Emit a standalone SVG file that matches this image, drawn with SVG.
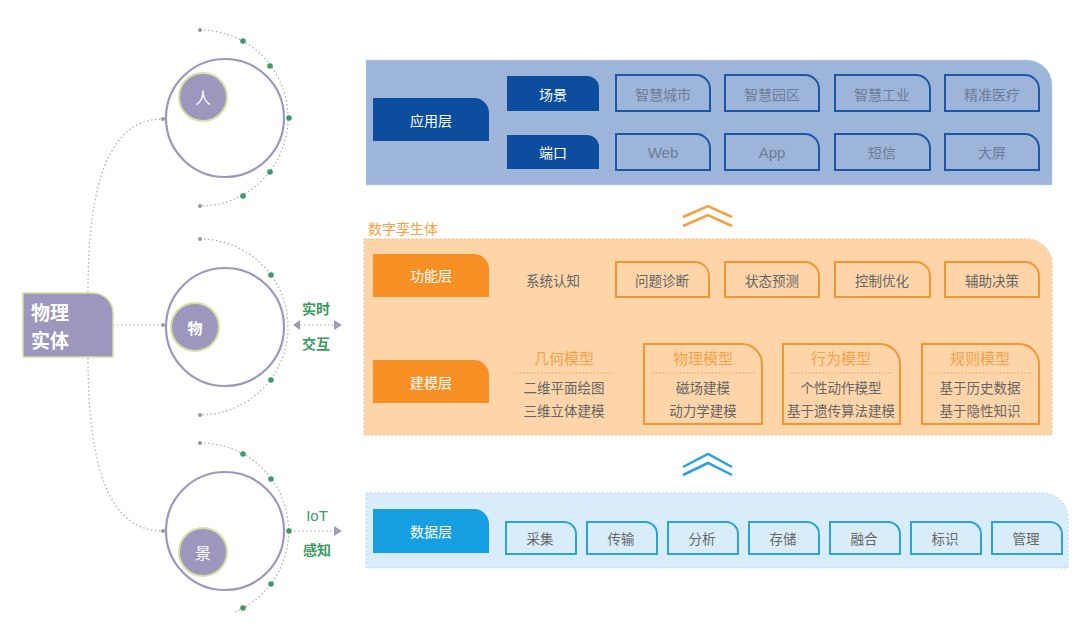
<svg xmlns="http://www.w3.org/2000/svg" width="1080" height="624" viewBox="0 0 1080 624">
<style>
text{font-family:"Noto Sans CJK SC","Liberation Sans",sans-serif;dominant-baseline:central;text-anchor:middle}
.lw{fill:#fff;font-size:14px}
.bt{fill:#6b7e99;font-size:14px}
.ot{fill:#666;font-size:13.5px}
.mt{fill:#f4a24a;font-size:15px}
.gt{fill:#3a9c5e;font-size:14px;font-weight:bold}
.ob{fill:none;stroke:#1e56a6;stroke-width:2}
.oo{fill:none;stroke:#f3962f;stroke-width:2}
.od{fill:none;stroke:#2aa2da;stroke-width:2}
.dot{fill:none;stroke:#aaa;stroke-width:1.2;stroke-dasharray:1.5 2.5}
.gd{fill:#3d9a6c}
.ed{fill:#999}
.big{fill:none;stroke:#9d97bd;stroke-width:2.2}
.sm{fill:#9d97bd;stroke:#d8dea4;stroke-width:2}
</style>
<rect width="1080" height="624" fill="#fff"/>

<g id="connectors">
<path class="dot" d="M88 292 C88 180 110 119 163 119"/>
<path class="dot" d="M113 325 H163"/>
<path class="dot" d="M88 358 C88 470 110 531 163 531"/>
<circle class="ed" cx="163" cy="119" r="2"/>
<circle class="ed" cx="163" cy="325" r="2"/>
<circle class="ed" cx="163" cy="531" r="2"/>
<path class="dot" d="M200 30 A88 88 0 0 1 200 206"/>
<path class="dot" d="M200 239 A88 88 0 0 1 200 415"/>
<path class="dot" d="M200 443 A88 88 0 0 1 235 612"/>
<path class="dot" d="M300 325 H333"/>
<path class="dot" d="M290 531 H333"/>
<polygon points="293,325 300,320 300,330" fill="#a09cb8"/>
<polygon points="342,325 334,320 334,330" fill="#a09cb8"/>
<polygon points="342,531 334,526 334,536" fill="#a09cb8"/>
<polyline points="683,217 708,206 732,217" fill="none" stroke="#f5a040" stroke-width="2.5"/>
<polyline points="683,226 708,215 732,226" fill="none" stroke="#f5a040" stroke-width="2.5"/>
<polyline points="683,467 708,454 732,467" fill="none" stroke="#2aa2da" stroke-width="2.5"/>
<polyline points="683,475 708,463 732,475" fill="none" stroke="#2aa2da" stroke-width="2.5"/>
</g>

<g id="entity">
<path d="M23 293 H93 A20 20 0 0 1 113 313 V357 H23 Z" fill="#9d97bd" stroke="#d8dea4" stroke-width="1.5"/>
<text x="31" y="311" style="text-anchor:start;fill:#fff;font-size:19px;font-weight:bold">物理</text>
<text x="31" y="339" style="text-anchor:start;fill:#fff;font-size:19px;font-weight:bold">实体</text>
</g>

<g id="node-ren">
<circle class="big" cx="225" cy="118" r="59"/>
<circle class="sm" cx="203" cy="97" r="24"/>
<text x="203" y="97" class="lw" style="font-size:16px">人</text>
<circle class="ed" cx="200" cy="30" r="2"/>
<circle class="ed" cx="200" cy="206" r="2"/>
<circle class="gd" cx="243" cy="41" r="2.8"/>
<circle class="gd" cx="270" cy="66" r="2.8"/>
<circle class="gd" cx="289" cy="118" r="2.8"/>
<circle class="gd" cx="270" cy="172" r="2.8"/>
<circle class="gd" cx="243" cy="196" r="2.8"/>
</g>

<g id="node-wu">
<circle class="big" cx="225" cy="327" r="59"/>
<circle class="sm" cx="195" cy="327" r="24"/>
<text x="195" y="327" class="lw" style="font-size:15px;font-weight:bold">物</text>
<circle class="ed" cx="200" cy="239" r="2"/>
<circle class="ed" cx="200" cy="415" r="2"/>
<circle class="gd" cx="271" cy="275" r="2.8"/>
<circle class="gd" cx="271" cy="380" r="2.8"/>
</g>

<g id="node-jing">
<circle class="big" cx="225" cy="531" r="59"/>
<circle class="sm" cx="203" cy="552" r="24"/>
<text x="203" y="552" class="lw" style="font-size:16px">景</text>
<circle class="ed" cx="200" cy="443" r="2"/>
<circle class="gd" cx="243" cy="454" r="2.8"/>
<circle class="gd" cx="271" cy="479" r="2.8"/>
<circle class="gd" cx="289" cy="531" r="2.8"/>
<circle class="gd" cx="271" cy="584" r="2.8"/>
<circle class="gd" cx="243" cy="608" r="2.8"/>
</g>

<g id="labels-left">
<text x="316" y="308" class="gt">实时</text>
<text x="316" y="343" class="gt">交互</text>
<text x="317" y="515" class="gt" style="font-family:'Liberation Sans',sans-serif;font-weight:normal;font-size:15px">IoT</text>
<text x="317" y="549" class="gt">感知</text>
</g>

<g id="app-layer">
<path d="M366 60 H1027 A25 25 0 0 1 1052 85 V185 H366 Z" fill="#9db5d9" stroke="#c3d1e8" stroke-width="1" stroke-dasharray="2 2"/>
<path d="M373 98 H474 A15 15 0 0 1 489 113 V141 H373 Z" fill="#0d4d9e"/>
<text x="431" y="120" class="lw">应用层</text>
<path d="M507 76 H587 A12 12 0 0 1 599 88 V111 H507 Z" fill="#0d4d9e"/>
<text x="553" y="94" class="lw">场景</text>
<path d="M507 135 H587 A12 12 0 0 1 599 147 V169 H507 Z" fill="#0d4d9e"/>
<text x="553" y="152" class="lw">端口</text>
<path class="ob" d="M616 75 H696 A14 14 0 0 1 710 89 V111 H616 Z"/>
<text x="663" y="94" class="bt">智慧城市</text>
<path class="ob" d="M725 75 H805 A14 14 0 0 1 819 89 V111 H725 Z"/>
<text x="772" y="94" class="bt">智慧园区</text>
<path class="ob" d="M835 75 H916 A14 14 0 0 1 930 89 V111 H835 Z"/>
<text x="882" y="94" class="bt">智慧工业</text>
<path class="ob" d="M945 75 H1025 A14 14 0 0 1 1039 89 V111 H945 Z"/>
<text x="992" y="94" class="bt">精准医疗</text>
<path class="ob" d="M616 134 H696 A14 14 0 0 1 710 148 V170 H616 Z"/>
<text x="663" y="152" class="bt" style="font-family:'Liberation Sans',sans-serif;font-size:15px">Web</text>
<path class="ob" d="M725 134 H805 A14 14 0 0 1 819 148 V170 H725 Z"/>
<text x="772" y="152" class="bt" style="font-family:'Liberation Sans',sans-serif;font-size:15px">App</text>
<path class="ob" d="M835 134 H916 A14 14 0 0 1 930 148 V170 H835 Z"/>
<text x="882" y="152" class="bt">短信</text>
<path class="ob" d="M945 134 H1025 A14 14 0 0 1 1039 148 V170 H945 Z"/>
<text x="992" y="152" class="bt">大屏</text>
</g>

<g id="twin-layer">
<text x="368" y="228" style="text-anchor:start;fill:#f6a23e;font-size:14px">数字孪生体</text>
<path d="M364 239 H1027 A25 25 0 0 1 1052 264 V435 H364 Z" fill="#fdd5a9" stroke="#f8be82" stroke-width="1" stroke-dasharray="2 2"/>
<path d="M373 254 H474 A15 15 0 0 1 489 269 V297 H373 Z" fill="#f68f24"/>
<text x="431" y="275" class="lw">功能层</text>
<text x="553" y="280" class="ot">系统认知</text>
<path class="oo" d="M616 262 H695 A14 14 0 0 1 709 276 V297 H616 Z"/>
<text x="662" y="280" class="ot">问题诊断</text>
<path class="oo" d="M725 262 H805 A14 14 0 0 1 819 276 V297 H725 Z"/>
<text x="772" y="280" class="ot">状态预测</text>
<path class="oo" d="M835 262 H916 A14 14 0 0 1 930 276 V297 H835 Z"/>
<text x="882" y="280" class="ot">控制优化</text>
<path class="oo" d="M945 262 H1025 A14 14 0 0 1 1039 276 V297 H945 Z"/>
<text x="992" y="280" class="ot">辅助决策</text>

<path d="M373 360 H474 A15 15 0 0 1 489 375 V403 H373 Z" fill="#f68f24"/>
<text x="431" y="382" class="lw">建模层</text>

<text x="564" y="357" class="mt">几何模型</text>
<path d="M513 373 H615" stroke="#c9a27a" stroke-width="1" stroke-dasharray="1.5 2"/>
<text x="564" y="387" class="ot">二维平面绘图</text>
<text x="564" y="410" class="ot">三维立体建模</text>

<path class="oo" d="M644 344 H742 A20 20 0 0 1 762 364 V424 H644 Z"/>
<text x="703" y="357" class="mt">物理模型</text>
<path d="M652 373 H755" stroke="#c9a27a" stroke-width="1" stroke-dasharray="1.5 2"/>
<text x="703" y="387" class="ot">磁场建模</text>
<text x="703" y="410" class="ot">动力学建模</text>

<path class="oo" d="M783 344 H880 A20 20 0 0 1 900 364 V424 H783 Z"/>
<text x="841" y="357" class="mt">行为模型</text>
<path d="M791 373 H893" stroke="#c9a27a" stroke-width="1" stroke-dasharray="1.5 2"/>
<text x="841" y="387" class="ot">个性动作模型</text>
<text x="841" y="410" class="ot">基于遗传算法建模</text>

<path class="oo" d="M922 344 H1019 A20 20 0 0 1 1039 364 V424 H922 Z"/>
<text x="980" y="357" class="mt">规则模型</text>
<path d="M930 373 H1032" stroke="#c9a27a" stroke-width="1" stroke-dasharray="1.5 2"/>
<text x="980" y="387" class="ot">基于历史数据</text>
<text x="980" y="410" class="ot">基于隐性知识</text>
</g>

<g id="data-layer">
<path d="M366 493 H1043 A25 25 0 0 1 1068 518 V568 H366 Z" fill="#d8ecf9" stroke="#b5d9f0" stroke-width="1" stroke-dasharray="2 2"/>
<path d="M373 509 H474 A15 15 0 0 1 489 524 V553 H373 Z" fill="#169fe0"/>
<text x="431" y="531" class="lw">数据层</text>
<path class="od" d="M506 522 H564 A12 12 0 0 1 576 534 V554 H506 Z"/>
<text x="540" y="538" class="ot">采集</text>
<path class="od" d="M587 522 H645 A12 12 0 0 1 657 534 V554 H587 Z"/>
<text x="621" y="538" class="ot">传输</text>
<path class="od" d="M668 522 H726 A12 12 0 0 1 738 534 V554 H668 Z"/>
<text x="702" y="538" class="ot">分析</text>
<path class="od" d="M749 522 H807 A12 12 0 0 1 819 534 V554 H749 Z"/>
<text x="783" y="538" class="ot">存储</text>
<path class="od" d="M830 522 H888 A12 12 0 0 1 900 534 V554 H830 Z"/>
<text x="864" y="538" class="ot">融合</text>
<path class="od" d="M911 522 H969 A12 12 0 0 1 981 534 V554 H911 Z"/>
<text x="945" y="538" class="ot">标识</text>
<path class="od" d="M992 522 H1050 A12 12 0 0 1 1062 534 V554 H992 Z"/>
<text x="1026" y="538" class="ot">管理</text>
</g>
</svg>
